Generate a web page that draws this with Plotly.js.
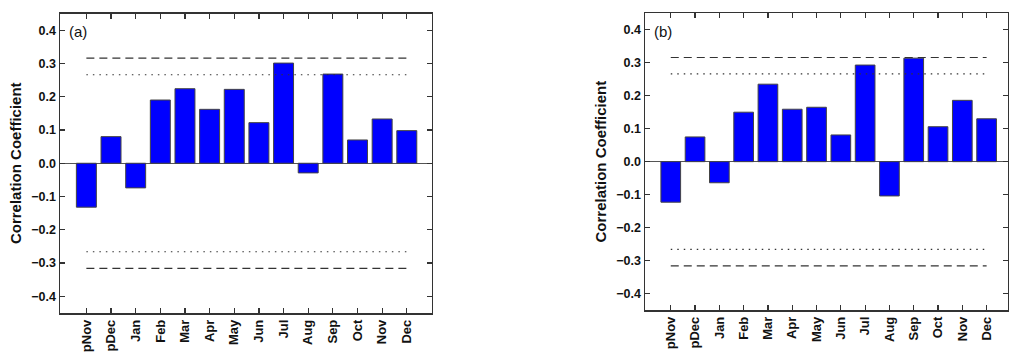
<!DOCTYPE html>
<html>
<head>
<meta charset="utf-8">
<script src="https://cdn.plot.ly/plotly-3.0.1.min.js"></script>
<style>
  html, body { margin: 0; padding: 0; background: #fff; }
  #chart { width: 1009px; height: 352px; }
</style>
</head>
<body>
<div id="chart"></div>
<script>
// ---- data ----
const months = ["pNov", "pDec", "Jan", "Feb", "Mar", "Apr", "May", "Jun", "Jul", "Aug", "Sep", "Oct", "Nov", "Dec"];
const corrA = [-0.132, 0.080, -0.074, 0.190, 0.224, 0.162, 0.222, 0.122, 0.301, -0.029, 0.268, 0.070, 0.133, 0.098];
const corrB = [-0.123, 0.075, -0.064, 0.150, 0.235, 0.159, 0.165, 0.081, 0.293, -0.104, 0.314, 0.106, 0.186, 0.130];
const sig99 = 0.316;   // dashed threshold
const sig95 = 0.266;   // dotted threshold
const yTicks = [-0.4, -0.3, -0.2, -0.1, 0.0, 0.1, 0.2, 0.3, 0.4];
const yTickText = ["\u22120.4", "\u22120.3", "\u22120.2", "\u22120.1", "0.0", "0.1", "0.2", "0.3", "0.4"];
const panelLabels = ["(a)", "(b)"];

// ---- styles ----
const fontFam = "Liberation Sans, Arial, sans-serif";
const barColor = "#0000ff";
const lineCol = "#333333";

function barTrace(vals, xa, ya) {
  return {
    type: "bar", x: months, y: vals, xaxis: xa, yaxis: ya,
    width: 0.81,
    marker: { color: barColor, line: { color: "#444", width: 1 } },
    hoverinfo: "x+y", showlegend: false
  };
}
function levelTrace(level, dash, xa, ya) {
  return {
    type: "scatter", mode: "lines",
    x: [months[0], months[months.length - 1]], y: [level, level],
    xaxis: xa, yaxis: ya,
    line: { color: lineCol, width: 1.2, dash: dash },
    hoverinfo: "skip", showlegend: false
  };
}

const traces = [];
[[corrA, "x", "y"], [corrB, "x2", "y2"]].forEach(([vals, xa, ya]) => {
  traces.push(barTrace(vals, xa, ya));
  traces.push(levelTrace(sig99, "8px,5px", xa, ya));
  traces.push(levelTrace(-sig99, "8px,5px", xa, ya));
  traces.push(levelTrace(sig95, "1.5px,5px", xa, ya));
  traces.push(levelTrace(-sig95, "1.5px,5px", xa, ya));
});

function xAxis(domain, range, anchor) {
  return {
    domain: domain, range: range, anchor: anchor,
    type: "category", categoryorder: "array", categoryarray: months,
    showline: true, linecolor: lineCol, linewidth: 1.5, mirror: "ticks",
    ticks: "inside", ticklen: 5, tickwidth: 1.2, tickcolor: lineCol,
    tickangle: -90, showgrid: false, zeroline: false,
    tickfont: { family: fontFam, size: 13, color: "#111", weight: "bold" },
    fixedrange: true
  };
}
function yAxis(domain, anchor) {
  return {
    domain: domain, range: [-0.45, 0.45], anchor: anchor,
    tickvals: yTicks, ticktext: yTickText,
    showline: true, linecolor: lineCol, linewidth: 1.5, mirror: "ticks",
    ticks: "inside", ticklen: 5, tickwidth: 1.2, tickcolor: lineCol,
    showgrid: false, zeroline: true, zerolinecolor: "#555", zerolinewidth: 1.3,
    tickfont: { family: fontFam, size: 12.5, color: "#111", weight: "bold" },
    title: { text: "Correlation Coefficient", standoff: 6,
             font: { family: fontFam, size: 15, color: "#111", weight: "bold" } },
    fixedrange: true
  };
}

const layout = {
  width: 1009, height: 352,
  margin: { l: 0, r: 0, t: 0, b: 0 },
  paper_bgcolor: "#fff", plot_bgcolor: "#fff",
  bargap: 0.2,
  xaxis: xAxis([60 / 1009, 431.7 / 1009], [-1.07, 14.01], "y"),
  yaxis: yAxis([1 - 313 / 352, 1 - 13.5 / 352], "x"),
  xaxis2: xAxis([645 / 1009, 1008 / 1009], [-1.06, 13.88], "y2"),
  yaxis2: yAxis([1 - 310 / 352, 1 - 13.3 / 352], "x2"),
  annotations: [
    { text: panelLabels[0], xref: "x domain", yref: "y domain", x: 0.02, y: 0.94,
      xanchor: "left", yanchor: "middle", showarrow: false,
      font: { family: fontFam, size: 15, color: "#111" } },
    { text: panelLabels[1], xref: "x2 domain", yref: "y2 domain", x: 0.02, y: 0.94,
      xanchor: "left", yanchor: "middle", showarrow: false,
      font: { family: fontFam, size: 15, color: "#111" } }
  ]
};

Plotly.newPlot("chart", traces, layout, { displayModeBar: false, staticPlot: true });
</script>
</body>
</html>
